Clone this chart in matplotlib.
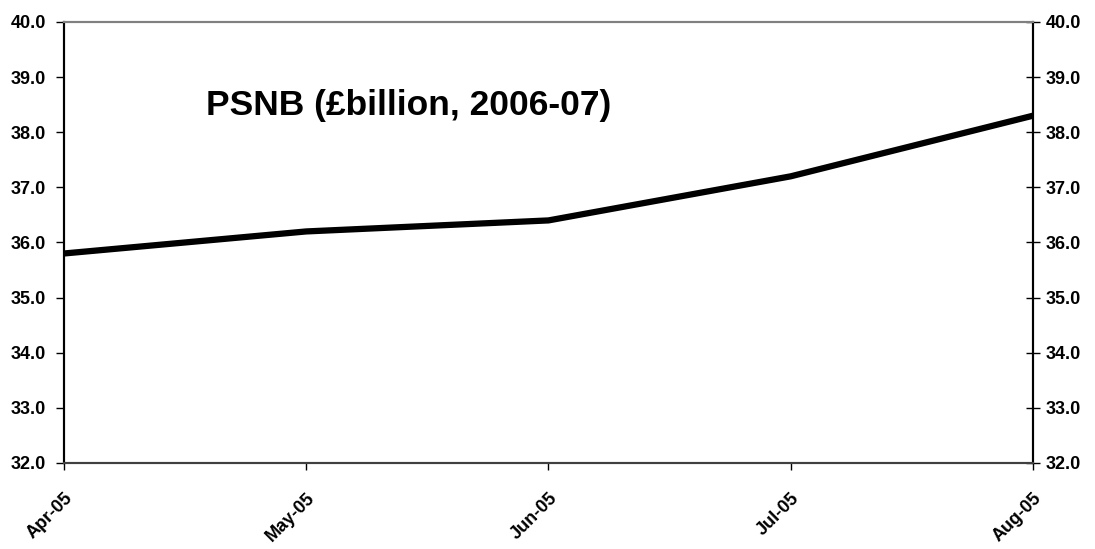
import matplotlib.pyplot as plt
import numpy as np

plt.rcParams['font.family'] = ['Liberation Sans', 'DejaVu Sans']

months = ['Apr-05', 'May-05', 'Jun-05', 'Jul-05', 'Aug-05']
psnb = [35.8, 36.2, 36.4, 37.2, 38.3]
yticks = np.arange(32, 40.5, 1.0)

fig = plt.figure(figsize=(10.95, 5.49), dpi=100)
ax = fig.add_axes([0.0584, 0.1567, 0.885, 0.8033])

x = np.arange(len(months))
ax.plot(x, psnb, color='black', lw=4.5, solid_capstyle='butt', clip_on=False, zorder=3)

ax.set_xlim(0, len(months) - 1)
ax.set_ylim(32, 40)
ax.set_xticks(x)
ax.set_xticklabels(months, rotation=45, ha='right', rotation_mode='anchor',
                   fontsize=13, fontweight='bold')
ax.set_yticks(yticks)
ax.set_yticklabels([f'{v:.1f}' for v in yticks], fontsize=13, fontweight='bold')
ax.tick_params(axis='x', direction='out', length=5, width=1, pad=14)
ax.tick_params(axis='y', direction='out', length=6, width=1, pad=7)

# right-hand axis mirrors the left one
ax2 = ax.twinx()
ax2.set_ylim(32, 40)
ax2.set_yticks(yticks)
ax2.set_yticklabels([f'{v:.1f}' for v in yticks], fontsize=13, fontweight='bold')
ax2.tick_params(axis='y', direction='inout', length=10, width=1, pad=4)

for a in (ax, ax2):
    a.spines['top'].set_color('#808080')
    a.spines['bottom'].set_color('#404040')
    a.spines['left'].set_color('black')
    a.spines['right'].set_color('black')
    for s in a.spines.values():
        s.set_linewidth(1.5)

ax.text(0.1465, 0.81, 'PSNB (£billion, 2006-07)', transform=ax.transAxes,
        fontsize=25.5, fontweight='bold', ha='left', va='center')

fig.savefig('out.png', dpi=100)
